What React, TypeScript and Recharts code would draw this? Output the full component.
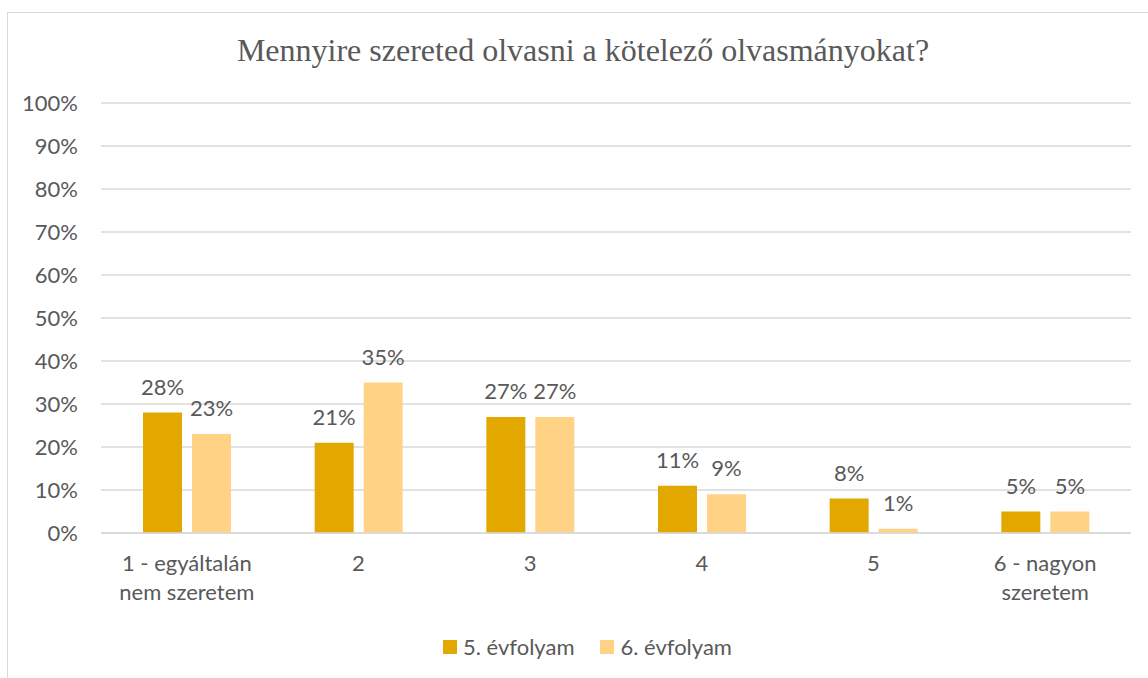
import { BarChart, Bar, XAxis, YAxis, CartesianGrid, LabelList } from 'recharts'

// Kategóriák (sortöréssel a tengelyfeliratokhoz)
const categories = [
  '1 - egyáltalán\nnem szeretem',
  '2',
  '3',
  '4',
  '5',
  '6 - nagyon\nszeretem',
]
const grade5 = [28, 21, 27, 11, 8, 5]
const grade6 = [23, 35, 27, 9, 1, 5]
const yTicks = [0, 10, 20, 30, 40, 50, 60, 70, 80, 90, 100]
const seriesNames = ['5. évfolyam', '6. évfolyam']

const COLORS = ['#E2A800', '#FFD286']
const TEXT = '#595959'
const GRID = '#D9D9D9'
const FONT = 'Lato, "Noto Sans", sans-serif'
const FS = 22

const data = categories.map((name, i) => ({
  name,
  g5: grade5[i],
  g6: grade6[i],
}))

function CategoryTick({ x, y, payload }: any) {
  const lines = String(payload.value).split('\n')
  return (
    <text x={x} y={y + 38} textAnchor="middle" fill={TEXT} fontSize={FS} fontFamily={FONT}>
      {lines.map((line, i) => (
        <tspan key={i} x={x} dy={i === 0 ? 0 : 29}>
          {line}
        </tspan>
      ))}
    </text>
  )
}

export default function App() {
  return (
    <div style={{ position: 'absolute', left: 0, top: 0, width: 1148, height: 678, background: '#fff', overflow: 'hidden' }}>
      {/* keret */}
      <div
        style={{
          position: 'absolute',
          left: 7,
          top: 12,
          width: 1160,
          height: 700,
          borderTop: `1.5px solid ${GRID}`,
          borderLeft: `1.5px solid ${GRID}`,
        }}
      />
      <div
        style={{
          position: 'absolute',
          left: 583,
          top: 32,
          transform: 'translateX(-50%)',
          whiteSpace: 'nowrap',
          fontFamily: '"Liberation Serif", "Times New Roman", serif',
          fontSize: 32,
          lineHeight: '36px',
          color: TEXT,
        }}
      >
        Mennyire szereted olvasni a kötelező olvasmányokat?
      </div>

      <div style={{ position: 'absolute', left: 0, top: 0 }}>
        <BarChart
          width={1148}
          height={678}
          data={data}
          margin={{ top: 103, right: 17, left: 0, bottom: 85 }}
          barSize={39}
          barGap={10}
        >
          <CartesianGrid vertical={false} stroke={GRID} strokeWidth={1.5} />
          <XAxis
            dataKey="name"
            axisLine={{ stroke: GRID, strokeWidth: 1.5 }}
            tickLine={false}
            tickSize={0}
            tickMargin={0}
            height={60}
            interval={0}
            tick={<CategoryTick />}
          />
          <YAxis
            width={101}
            domain={[0, 100]}
            ticks={yTicks}
            axisLine={false}
            tickLine={false}
            tickSize={0}
            tickMargin={23}
            tickFormatter={(v) => `${v}%`}
            tick={{ fill: TEXT, fontSize: FS, fontFamily: FONT }}
          />
          <Bar dataKey="g5" name={seriesNames[0]} fill={COLORS[0]} isAnimationActive={false}>
            <LabelList
              dataKey="g5"
              position="top"
              offset={18}
              formatter={(v: any) => `${v}%`}
              fill={TEXT}
              fontSize={FS}
              fontFamily={FONT}
            />
          </Bar>
          <Bar dataKey="g6" name={seriesNames[1]} fill={COLORS[1]} isAnimationActive={false}>
            <LabelList
              dataKey="g6"
              position="top"
              offset={18}
              formatter={(v: any) => `${v}%`}
              fill={TEXT}
              fontSize={FS}
              fontFamily={FONT}
            />
          </Bar>
        </BarChart>
      </div>

      {/* jelmagyarázat */}
      <div
        style={{
          position: 'absolute',
          left: 443,
          top: 634,
          display: 'flex',
          alignItems: 'center',
          fontFamily: FONT,
          fontSize: FS,
          color: TEXT,
          lineHeight: '26px',
        }}
      >
        {seriesNames.map((name, i) => (
          <div key={name} style={{ display: 'flex', alignItems: 'center', marginRight: i === 0 ? 26 : 0 }}>
            <span style={{ display: 'inline-block', width: 14, height: 14, background: COLORS[i], marginRight: 6 }} />
            <span>{name}</span>
          </div>
        ))}
      </div>
    </div>
  )
}
